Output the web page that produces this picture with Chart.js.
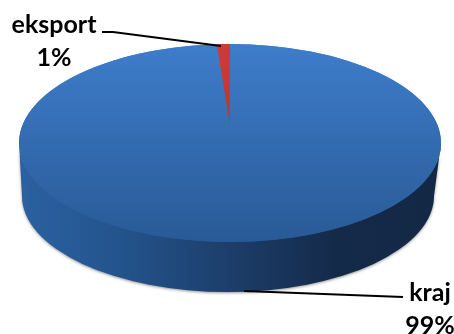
<!DOCTYPE html>
<html>
<head>
<meta charset="utf-8">
<title>kraj / eksport</title>
<script src="https://cdn.jsdelivr.net/npm/chart.js@4/dist/chart.umd.min.js"></script>
<style>
    html, body { margin: 0; padding: 0; background: #fff; }
    canvas { display: block; }
</style>
</head>
<body>
<canvas id="mychart" width="454" height="334"></canvas>
<script>
var categories = ['kraj', 'eksport'];
var shares = [99, 1];

var topStops = [
    ['#3e7dcb', '#295a96'],
    ['#cf3b37', '#a5312e']
];

// tilt of the disc
var squash = 0.469;

// lower rim of the side wall, relative to the centre of the top face
var rimShiftX = -2;
var rimShiftY = 53;
var rimWidth = 206;
var rimHeight = 96;

// the wedge tip sits above the middle of the disc, as seen in perspective
var tipLift = 18;
var tipSquash = 0.384;

// label text sits outside the pie, joined to it by a leader line
var labelSpots = [
    { x: 430, y: 301, leader: [[244, 291], [403, 297]] },
    { x: 54, y: 33, leader: [[102, 32], [113, 32], [221, 46]] }
];

function discCentre(chart) {
    var arc = chart.getDatasetMeta(0).data[0];
    return { x: arc.x, y: arc.y, r: arc.outerRadius };
}

function faceFill(chart, index) {
    var c = chart.chartArea;
    var cy = (c.top + c.bottom) / 2;
    var fill = chart.ctx.createLinearGradient(0, cy - 211, 0, cy + 211);
    fill.addColorStop(0, topStops[index][0]);
    fill.addColorStop(1, topStops[index][1]);
    return fill;
}

function drawWall(ctx, c) {
    var ry = c.r * squash;
    ctx.save();
    var side = ctx.createLinearGradient(c.x - c.r, 0, c.x + c.r, 0);
    side.addColorStop(0, '#2b61a2');
    side.addColorStop(0.25, '#23538b');
    side.addColorStop(0.5, '#1c3e6a');
    side.addColorStop(0.75, '#142a49');
    side.addColorStop(1, '#132845');
    ctx.fillStyle = side;
    ctx.shadowColor = 'rgba(60,60,60,0.55)';
    ctx.shadowBlur = 3;
    ctx.shadowOffsetY = 1;
    ctx.beginPath();
    // upper edge tucked under the top face so no seam shows
    ctx.ellipse(c.x, c.y, c.r, ry - 3, 0, 0, Math.PI);
    ctx.ellipse(c.x + rimShiftX, c.y + rimShiftY, rimWidth, rimHeight, 0, Math.PI, 0, true);
    ctx.closePath();
    ctx.fill();
    ctx.restore();
}

var tiltedDisc = {
    id: 'tiltedDisc',
    beforeDatasetDraw: function(chart) {
        var ctx = chart.ctx;
        var c = discCentre(chart);
        var arcs = chart.getDatasetMeta(0).data;

        drawWall(ctx, c);

        ctx.save();
        ctx.translate(c.x, c.y);
        ctx.scale(1, squash);
        ctx.translate(-c.x, -c.y);
        // whole face first, the moved wedge tip would leave a notch otherwise
        ctx.fillStyle = faceFill(chart, 0);
        ctx.beginPath();
        ctx.arc(c.x, c.y, c.r, 0, Math.PI * 2);
        ctx.fill();
        arcs[0].draw(ctx);
        ctx.restore();

        ctx.save();
        ctx.translate(c.x, c.y - tipLift);
        ctx.scale(1, tipSquash);
        ctx.translate(-c.x, -c.y);
        arcs[1].draw(ctx);
        ctx.restore();

        return false;
    },
    afterDatasetsDraw: function(chart) {
        var ctx = chart.ctx;

        ctx.save();
        ctx.strokeStyle = '#000';
        ctx.lineWidth = 2;
        labelSpots.forEach(function(spot) {
            ctx.beginPath();
            spot.leader.forEach(function(p, i) {
                if (i === 0) ctx.moveTo(p[0], p[1]);
                else ctx.lineTo(p[0], p[1]);
            });
            ctx.stroke();
        });

        ctx.fillStyle = '#000';
        ctx.font = 'bold 25px Lato';
        ctx.textAlign = 'center';
        categories.forEach(function(name, i) {
            var spot = labelSpots[i];
            ctx.fillText(name, spot.x, spot.y);
            ctx.fillText(shares[i] + '%', spot.x, spot.y + 32.5);
        });
        ctx.restore();
    }
};

var myChart = new Chart(document.getElementById('mychart').getContext('2d'), {
    type: 'pie',
    data: {
        labels: categories,
        datasets: [{
            data: shares,
            clip: false,
            borderWidth: 0,
            backgroundColor: function(context) {
                if (!context.chart.chartArea) return topStops[context.dataIndex][0];
                return faceFill(context.chart, context.dataIndex);
            }
        }]
    },
    options: {
        responsive: false,
        animation: false,
        radius: 211,
        layout: { padding: { left: 6, bottom: 48 } },
        plugins: {
            legend: { display: false },
            tooltip: { enabled: false }
        }
    },
    plugins: [tiltedDisc]
});
</script>
</body>
</html>
